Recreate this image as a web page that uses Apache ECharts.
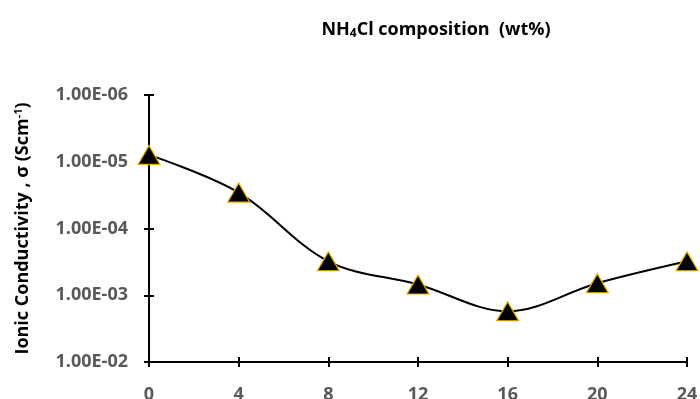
<!DOCTYPE html>
<html>
<head>
<meta charset="utf-8">
<script src="https://cdn.jsdelivr.net/npm/echarts@6/dist/echarts.min.js"></script>
<style>
html, body { margin: 0; padding: 0; background: #fff; }
#chart { width: 700px; height: 399px; }
</style>
</head>
<body>
<div id="chart"></div>
<script>
// NH4Cl wt% and ionic conductivity
var composition = [0, 4, 8, 12, 16, 20, 24];
var conductivity = [7.9e-6, 2.9e-5, 3.1e-4, 6.9e-4, 1.74e-3, 6.6e-4, 3.1e-4];
var xTicks = [0, 24, 4];          // min, max, interval
var yRange = [1e-6, 1e-2];

var fmtExp = function (v) {
    var e = Math.round(Math.log(v) / Math.LN10);
    var s = e < 0 ? '-' : '+';
    var a = Math.abs(e);
    return '1.00E' + s + (a < 10 ? '0' + a : a);
};

var font = '"Open Sans", sans-serif';
var myChart = echarts.init(document.getElementById('chart'));
var option = {
    animation: false,
    title: {
        text: '{a|NH}{b|4}{a|Cl composition  (wt%)}',
        left: 431,
        top: 14,
        textAlign: 'center',
        textStyle: {
            rich: {
                a: {fontFamily: font, fontWeight: 'bold', fontSize: 18, color: '#000'},
                b: {fontFamily: font, fontWeight: 'bold', fontSize: 12, color: '#000', verticalAlign: 'bottom', padding: [9, 0, 0, 0]}
            }
        }
    },
    grid: {left: 149, right: 13, top: 95, bottom: 37, outerBoundsMode: 'none'},
    xAxis: [{
        type: 'value',
        min: xTicks[0],
        max: xTicks[1],
        interval: xTicks[2],
        axisLine: {lineStyle: {color: '#000', width: 2}},
        axisTick: {length: 5, lineStyle: {color: '#000', width: 2}},
        axisLabel: {margin: 24, color: '#595959', fontFamily: font, fontWeight: 'bold', fontSize: 18},
        splitLine: {show: false}
    }, {
        type: 'value',
        position: 'bottom',
        min: xTicks[0],
        max: xTicks[1],
        interval: xTicks[2],
        axisLine: {show: false},
        axisTick: {inside: true, length: 5, lineStyle: {color: '#000', width: 2}},
        axisLabel: {show: false},
        splitLine: {show: false}
    }],
    yAxis: [{
        type: 'log',
        logBase: 10,
        min: yRange[0],
        max: yRange[1],
        inverse: true,
        name: '{a|Ionic Conductivity , \u03c3 (Scm}{s|-1}{a|)}',
        nameLocation: 'middle',
        nameGap: 116,
        nameRotate: 90,
        nameTextStyle: {
            rich: {
                a: {fontFamily: font, fontWeight: 'bold', fontSize: 18, color: '#000'},
                s: {fontFamily: font, fontWeight: 'bold', fontSize: 11, color: '#000', verticalAlign: 'top', padding: [0, 0, 9, 0]}
            }
        },
        axisLine: {show: true, lineStyle: {color: '#000', width: 2}},
        axisTick: {show: true, length: 5, lineStyle: {color: '#000', width: 2}},
        axisLabel: {margin: 21, color: '#595959', fontFamily: font, fontWeight: 'bold', fontSize: 18, formatter: fmtExp},
        splitLine: {show: false}
    }, {
        type: 'log',
        logBase: 10,
        min: yRange[0],
        max: yRange[1],
        inverse: true,
        position: 'left',
        axisLine: {show: false},
        axisTick: {show: true, inside: true, length: 5, lineStyle: {color: '#000', width: 2}},
        axisLabel: {show: false},
        splitLine: {show: false}
    }],
    series: [{
        type: 'line',
        smooth: 0.35,
        data: composition.map(function (x, i) {
            return [x, conductivity[i]];
        }),
        lineStyle: {color: '#000', width: 2},
        symbol: 'triangle',
        symbolSize: [22, 19],
        itemStyle: {color: '#000', borderColor: '#E8B000', borderWidth: 1.2},
        z: 5
    }]
};
myChart.setOption(option);
</script>
</body>
</html>
